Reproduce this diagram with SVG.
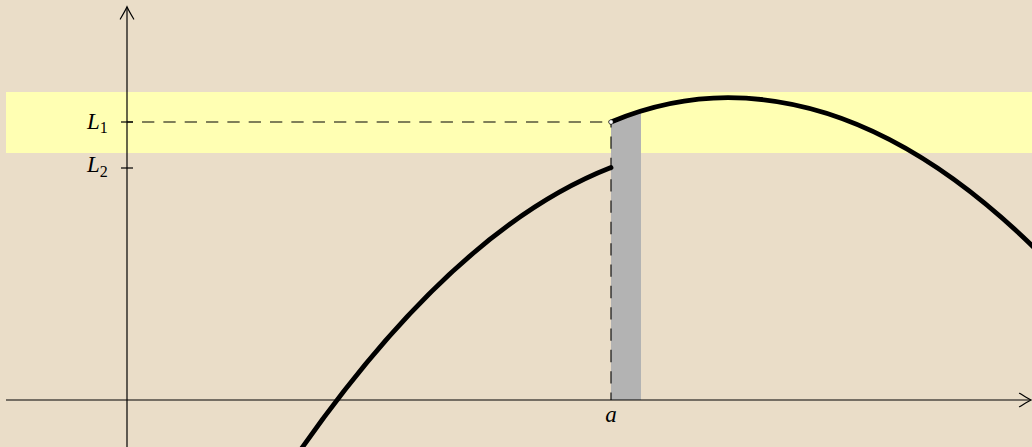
<svg xmlns="http://www.w3.org/2000/svg" width="1032" height="447" viewBox="0 0 1032 447">
<style>
.axis{stroke:#000;stroke-width:1.2;fill:none}
.arrow{stroke:#000;stroke-width:1.2;fill:none;stroke-linecap:round}
.tick{stroke:#000;stroke-width:1.2}
.dash{stroke:#000;stroke-width:1.1;fill:none;stroke-dasharray:12.3 9.03}
.curve{stroke:#000;stroke-width:4.8;fill:none;stroke-linecap:round}
.lbl{font-family:"Liberation Serif",serif;font-style:italic;font-size:23px;fill:#000}
.sub{font-style:normal;font-size:16px}
</style>
<rect id="background" x="0" y="0" width="1032" height="447" fill="#EADDC8"/>
<rect id="band" x="6" y="92" width="1026" height="61" fill="#FFFFB3"/>
<path id="strip" d="M611,400 V122 Q626,115.77 641,111.1 V400 Z" fill="#B3B3B3"/>
<g id="connectors">
  <path class="dash" d="M127,122 H611" style="stroke-dashoffset:6.3"/>
  <path class="dash" d="M611,122 V400" style="stroke-dashoffset:6.8"/>
</g>
<g id="axes">
  <line class="axis" x1="6" y1="400" x2="1030.5" y2="400"/>
  <path class="arrow" d="M1019.5,393.3 C1024,396 1028,398.6 1031,400 C1028,401.4 1024,404 1019.5,406.7"/>
  <line class="axis" x1="127" y1="447" x2="127" y2="7.5"/>
  <path class="arrow" d="M120.3,19 C123,14.5 125.6,10 127,6.8 C128.4,10 131,14.5 133.7,19"/>
  <line class="tick" x1="121" y1="122" x2="133" y2="122"/>
  <line class="tick" x1="121" y1="168" x2="133" y2="168"/>
</g>
<g id="label-L1"><text class="lbl" x="87" y="128.5">L<tspan class="sub" dy="4.5">1</tspan></text></g>
<g id="label-L2"><text class="lbl" x="87" y="172">L<tspan class="sub" dy="4.5">2</tspan></text></g>
<g id="label-a"><text class="lbl" x="611" y="421.5" text-anchor="middle">a</text></g>
<g id="curve-left"><path class="curve" d="M300,450.7 Q455.5,228.3 611,167.6"/></g>
<g id="curve-right"><path class="curve" d="M611,122 Q669.5,97.7 728,97.7 Q884,97.7 1040,253.45"/></g>
<g id="open-point"><circle cx="611" cy="122" r="2.2" fill="#fff" stroke="#000" stroke-width="0.5"/></g>
</svg>
